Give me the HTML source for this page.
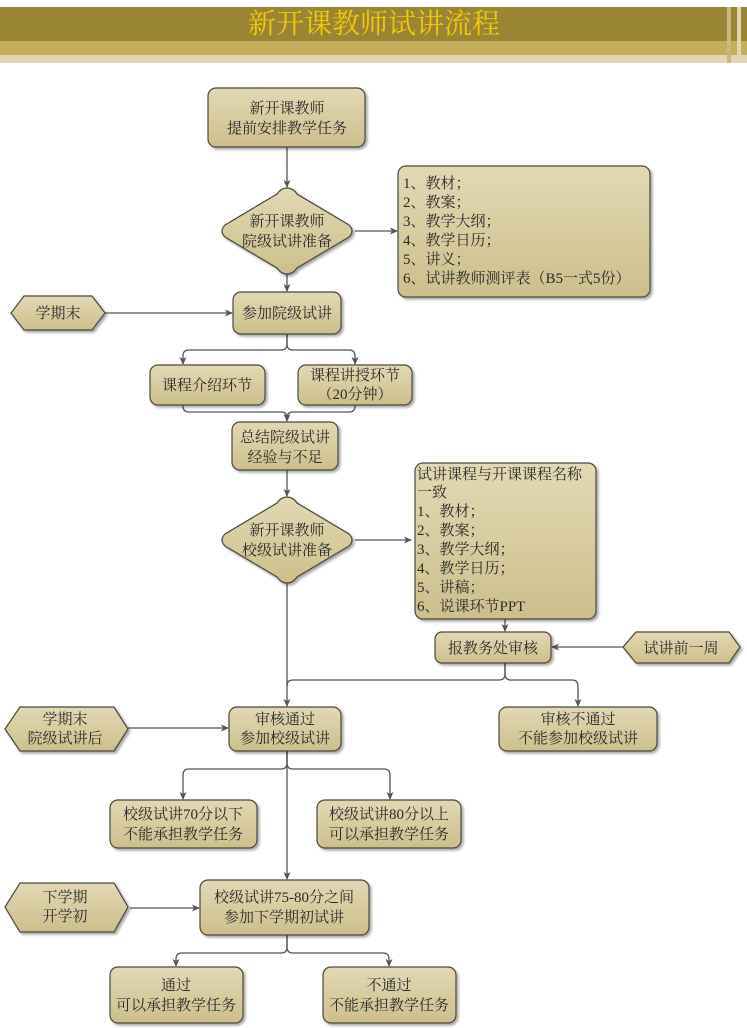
<!DOCTYPE html>
<html><head><meta charset="utf-8"><style>
html,body{margin:0;padding:0;background:#fff;}
svg{display:block;}
text{font-family:"Liberation Serif","Noto Serif CJK SC",serif;fill:#2a2a2a;font-size:15px;}
.t{text-anchor:middle;}
</style></head><body>
<svg width="747" height="1028" viewBox="0 0 747 1028" xmlns="http://www.w3.org/2000/svg">
<defs>
<linearGradient id="g" x1="0" y1="0" x2="0" y2="1">
<stop offset="0" stop-color="#e2d8b4"/><stop offset="1" stop-color="#cdbf8c"/>
</linearGradient>
<filter id="s" x="-10%" y="-10%" width="130%" height="130%"><feDropShadow dx="2" dy="2" stdDeviation="1.2" flood-color="#000" flood-opacity="0.35"/></filter>
<marker id="a" markerWidth="8" markerHeight="8" refX="7" refY="4" orient="auto" markerUnits="userSpaceOnUse"><path d="M0,0.5 L8,4 L0,7.5 L2,4z" fill="#555"/></marker>
</defs>
<!-- header -->
<rect x="0" y="7" width="747" height="34" fill="#9a8535"/>
<rect x="0" y="41" width="747" height="14" fill="#c4ae5c"/>
<rect x="0" y="55" width="747" height="8" fill="#e2d7b2"/>
<rect x="727" y="7" width="4" height="56" fill="#c8b880"/>
<rect x="737" y="7" width="4" height="56" fill="#e0d5b0"/>
<text x="374" y="33" class="t" style="font-size:28px;fill:#f2c80c">新开课教师试讲流程</text>

<g stroke="#555" stroke-width="1.3" fill="none">
<line x1="287" y1="147" x2="287" y2="187" marker-end="url(#a)"/>
<line x1="355" y1="231" x2="397" y2="231" marker-end="url(#a)"/>
<line x1="287" y1="274" x2="287" y2="291" marker-end="url(#a)"/>
<line x1="105" y1="313" x2="232" y2="313" marker-end="url(#a)"/>
<path d="M287,334 V344 Q287,350 281,350 H189 Q183,350 183,356 V364" marker-end="url(#a)"/>
<path d="M287,334 V344 Q287,350 293,350 H349 Q355,350 355,356 V364" marker-end="url(#a)"/>
<path d="M183,405 V406 Q183,412 189,412 H281 Q287,412 287,418 V421" marker-end="url(#a)"/>
<path d="M355,405 V406 Q355,412 349,412 H293 Q287,412 287,418"/>
<line x1="287" y1="470" x2="287" y2="496" marker-end="url(#a)"/>
<line x1="355" y1="540" x2="411" y2="540" marker-end="url(#a)"/>
<line x1="505" y1="619" x2="505" y2="631" marker-end="url(#a)"/>
<line x1="623" y1="647" x2="552" y2="647" marker-end="url(#a)"/>
<line x1="287" y1="583" x2="287" y2="706" marker-end="url(#a)"/>
<path d="M505,663 V674 Q505,680 499,680 H293 Q287,680 287,686"/>
<path d="M505,663 V674 Q505,680 511,680 H572 Q578,680 578,686 V706" marker-end="url(#a)"/>
<line x1="128" y1="728" x2="228" y2="728" marker-end="url(#a)"/>
<path d="M287,751 V763 Q287,769 281,769 H189 Q183,769 183,775 V799" marker-end="url(#a)"/>
<path d="M287,751 V763 Q287,769 293,769 H384 Q390,769 390,775 V799" marker-end="url(#a)"/>
<line x1="287" y1="751" x2="287" y2="879" marker-end="url(#a)"/>
<line x1="130" y1="908" x2="199" y2="908" marker-end="url(#a)"/>
<path d="M287,935 V947 Q287,953 281,953 H182 Q176,953 176,959 V966" marker-end="url(#a)"/>
<path d="M287,935 V947 Q287,953 293,953 H383 Q389,953 389,959 V966" marker-end="url(#a)"/>
</g>

<g fill="url(#g)" stroke="#4a4a3a" stroke-width="1.2" filter="url(#s)">
<rect x="208" y="88" width="157" height="59" rx="8"/>
<path d="M287,188 Q293,188 297,194 L349,225 Q355,231 349,237 L297,268 Q293,274 287,274 Q281,274 277,268 L225,237 Q219,231 225,225 L277,194 Q281,188 287,188Z"/>
<rect x="398" y="166" width="252" height="131" rx="8"/>
<rect x="233" y="292" width="108" height="42" rx="8"/>
<path d="M24,296 H92 L105,313 L92,330 H24 L11,313Z"/>
<rect x="150" y="365" width="115" height="40" rx="8"/>
<rect x="298" y="365" width="114" height="40" rx="8"/>
<rect x="232" y="422" width="106" height="48" rx="8"/>
<path d="M287,497 Q293,497 297,503 L349,534 Q355,540 349,546 L297,577 Q293,583 287,583 Q281,583 277,577 L225,546 Q219,540 225,534 L277,503 Q281,497 287,497Z"/>
<rect x="415" y="463" width="181" height="156" rx="8"/>
<rect x="435" y="632" width="116" height="31" rx="7"/>
<path d="M636,632 H729 L740,647 L729,663 H636 L623,647Z"/>
<rect x="229" y="707" width="112" height="44" rx="8"/>
<rect x="499" y="707" width="158" height="44" rx="8"/>
<path d="M20,707 H114 L128,729 L114,751 H20 L5,729Z"/>
<rect x="110" y="800" width="147" height="48" rx="8"/>
<rect x="317" y="800" width="144" height="48" rx="8"/>
<path d="M20,883 H114 L128,907 L114,932 H20 L5,907Z"/>
<rect x="200" y="880" width="169" height="55" rx="8"/>
<rect x="110" y="967" width="133" height="56" rx="8"/>
<rect x="323" y="967" width="133" height="56" rx="8"/>
</g>

<text x="287" y="113" class="t">新开课教师</text>
<text x="287" y="133" class="t">提前安排教学任务</text>
<text x="287" y="226" class="t">新开课教师</text>
<text x="287" y="246" class="t">院级试讲准备</text>
<text x="403" y="188">1、教材；</text>
<text x="403" y="207">2、教案；</text>
<text x="403" y="226">3、教学大纲；</text>
<text x="403" y="245">4、教学日历；</text>
<text x="403" y="264">5、讲义；</text>
<text x="403" y="283">6、试讲教师测评表（B5一式5份）</text>
<text x="287" y="318" class="t">参加院级试讲</text>
<text x="58" y="318" class="t">学期末</text>
<text x="207" y="390" class="t">课程介绍环节</text>
<text x="355" y="380" class="t">课程讲授环节</text>
<text x="355" y="399" class="t">（20分钟）</text>
<text x="285" y="442" class="t">总结院级试讲</text>
<text x="285" y="462" class="t">经验与不足</text>
<text x="287" y="535" class="t">新开课教师</text>
<text x="287" y="555" class="t">校级试讲准备</text>
<text x="417" y="479">试讲课程与开课课程名称</text>
<text x="417" y="497">一致</text>
<text x="417" y="516">1、教材；</text>
<text x="417" y="535">2、教案；</text>
<text x="417" y="554">3、教学大纲；</text>
<text x="417" y="573">4、教学日历；</text>
<text x="417" y="592">5、讲稿；</text>
<text x="417" y="611">6、说课环节PPT</text>
<text x="493" y="653" class="t">报教务处审核</text>
<text x="681" y="653" class="t">试讲前一周</text>
<text x="285" y="724" class="t">审核通过</text>
<text x="285" y="743" class="t">参加校级试讲</text>
<text x="578" y="724" class="t">审核不通过</text>
<text x="578" y="743" class="t">不能参加校级试讲</text>
<text x="65" y="724" class="t">学期末</text>
<text x="65" y="743" class="t">院级试讲后</text>
<text x="183" y="819" class="t">校级试讲70分以下</text>
<text x="183" y="839" class="t">不能承担教学任务</text>
<text x="389" y="819" class="t">校级试讲80分以上</text>
<text x="389" y="839" class="t">可以承担教学任务</text>
<text x="65" y="902" class="t">下学期</text>
<text x="65" y="921" class="t">开学初</text>
<text x="284" y="902" class="t">校级试讲75-80分之间</text>
<text x="284" y="922" class="t">参加下学期初试讲</text>
<text x="176" y="990" class="t">通过</text>
<text x="176" y="1010" class="t">可以承担教学任务</text>
<text x="389" y="990" class="t">不通过</text>
<text x="389" y="1010" class="t">不能承担教学任务</text>
</svg>
</body></html>
